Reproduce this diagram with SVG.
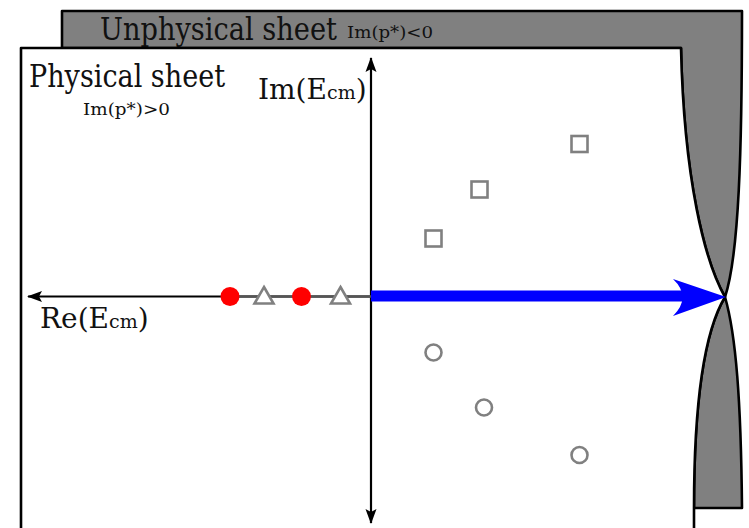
<svg xmlns="http://www.w3.org/2000/svg" width="749" height="528" viewBox="0 0 749 528">
<defs>
<style>
.sheet{stroke:#000;stroke-width:2.6;stroke-linejoin:round}
.axis{stroke:#000;stroke-width:2.2;fill:none}
.lbl{font-family:"DejaVu Serif","Liberation Serif",serif;fill:#111}
.big{font-size:32px;font-stretch:condensed}
.small{font-size:17.5px;font-stretch:condensed}
.ax{font-size:28px}
.sub{font-size:19px}
.open{fill:#fff;stroke:#808080;stroke-width:2.6}
.dot{fill:#ff0000;stroke:none}
</style>
<marker id="ah" markerUnits="userSpaceOnUse" markerWidth="16" markerHeight="12" viewBox="0 -6 16 12" refX="14" refY="0" orient="auto">
<path d="M0,-5.5 L15,0 L0,5.5 L3,0 Z" fill="#000"/>
</marker>
</defs>
<rect width="749" height="528" fill="#fff"/>
<g id="unphysical-sheet">
<path class="sheet" fill="#808080" d="M62,48 L62,11 L742,11 C742,150 739,255 725,297 C736,335 741,400 742,508 L694,508 C694,400 705,330 725,297 C705,262 684,180 681,48 Z"/>
<text class="lbl big" x="100" y="39.5" textLength="237" lengthAdjust="spacingAndGlyphs">Unphysical sheet</text>
<text class="lbl small" x="347" y="38" textLength="86" lengthAdjust="spacingAndGlyphs">Im(p*)&lt;0</text>
</g>
<g id="physical-sheet">
<path class="sheet" fill="#fff" d="M21,530 L21,48 L681,48 C684,180 705,262 725,297 C705,330 694,400 694,508 L694,530"/>
<text class="lbl big" x="29" y="87" textLength="196" lengthAdjust="spacingAndGlyphs">Physical sheet</text>
<text class="lbl small" x="83" y="115" textLength="87" lengthAdjust="spacingAndGlyphs">Im(p*)&gt;0</text>
</g>
<g id="connectors">
<line class="axis" x1="371" y1="296" x2="371" y2="58" marker-end="url(#ah)"/>
<line class="axis" x1="371" y1="296" x2="371" y2="523" marker-end="url(#ah)"/>
<line class="axis" x1="371" y1="296.5" x2="28" y2="296.5" marker-end="url(#ah)"/>
<line x1="230" y1="296.5" x2="371" y2="296.5" stroke="#555" stroke-width="2.4"/>
<line x1="371" y1="296" x2="690" y2="296" stroke="#0000ff" stroke-width="11"/>
<path d="M726,297 L673,279 Q692,297 673,316 Z" fill="#0000ff"/>
</g>
<g id="axis-labels">
<text class="lbl ax" x="258" y="99">Im(E<tspan class="sub">cm</tspan>)</text>
<text class="lbl ax" x="40" y="328">Re(E<tspan class="sub">cm</tspan>)</text>
</g>
<g id="poles">
<circle class="dot" cx="230" cy="296.5" r="9.5"/>
<circle class="dot" cx="301.5" cy="296.5" r="9.5"/>
<path class="open" d="M264,287 L273.5,303.5 L254.5,303.5 Z"/>
<path class="open" d="M340.5,287 L350,303.5 L331,303.5 Z"/>
<rect class="open" x="571.5" y="136" width="16" height="16"/>
<rect class="open" x="471.5" y="181.5" width="16" height="16"/>
<rect class="open" x="425.5" y="230.5" width="16" height="16"/>
<circle class="open" cx="433.5" cy="352.5" r="8"/>
<circle class="open" cx="484" cy="407.5" r="8"/>
<circle class="open" cx="579.5" cy="455" r="8"/>
</g>
</svg>
